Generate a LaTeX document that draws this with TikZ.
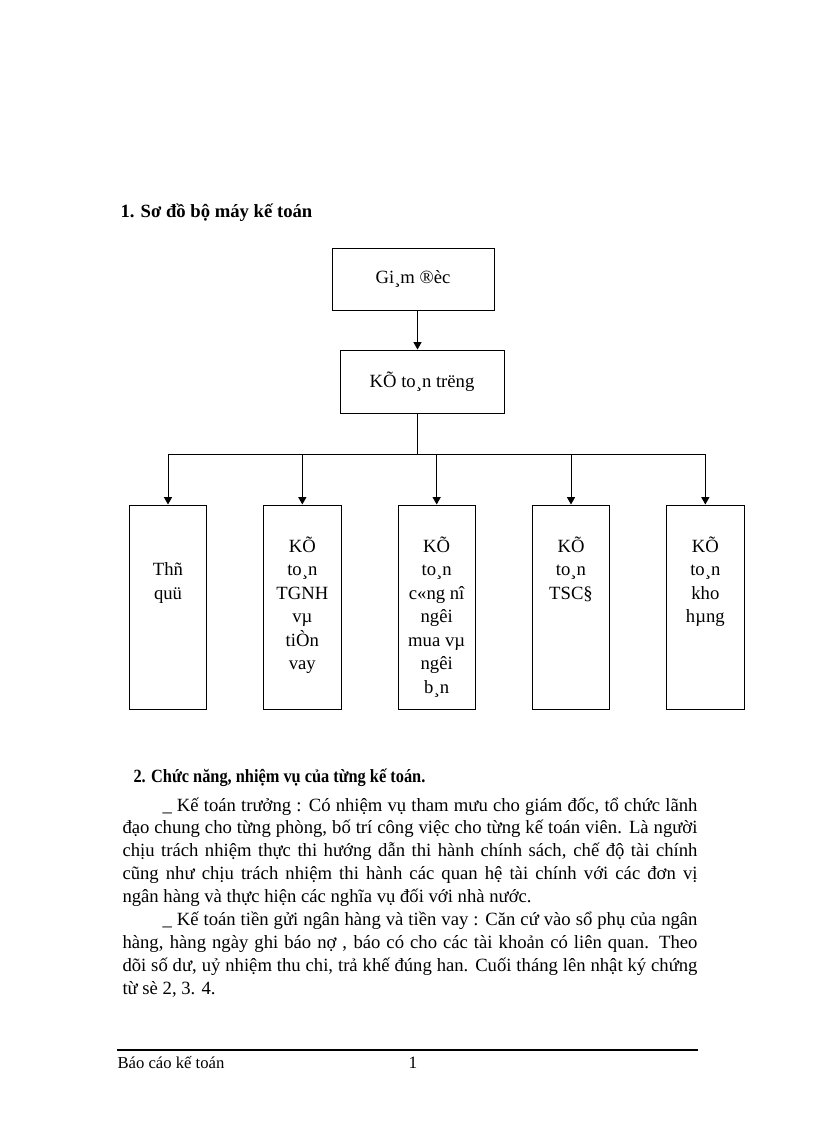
\documentclass[tikz,border=0pt]{standalone}
\usepackage{fontspec}
\setmainfont{Liberation Serif}
\usetikzlibrary{positioning,arrows.meta,calc}

\begin{document}
\begin{tikzpicture}[x=0.75pt, y=-0.75pt, line width=0.75pt,
    every node/.style={font=\fontsize{14}{17.6}\selectfont, inner sep=0pt},
    topbox/.style={draw, align=center},
    unitbox/.style={draw, minimum width=58pt, minimum height=153pt},
    unittext/.style={align=center, anchor=base},
    heading/.style={anchor=base west, font=\fontsize{14}{17.2}\selectfont\bfseries},
    arr/.style={-{Triangle[length=5.5pt, width=6pt]}}]
  \useasboundingbox (0,0) rectangle (816,1123);

  % heading 1
  \node[heading] (h1) at (120,218) {1. Sơ đồ bộ máy kế toán};

  % chart
  \node[topbox, minimum width=121.5pt, minimum height=46.5pt] (gd) at (413,279) {Gi¸m ®èc};
  \node[topbox, minimum width=123pt, minimum height=47.25pt, below=29.25pt of gd,
        xshift=6.75pt] (ktt) {KÕ to¸n trëng};

  \node[unitbox] (b1) at (168,607) {};
  \node[unitbox, right=42pt of b1] (b2) {};
  \node[unitbox, right=42pt of b2] (b3) {};
  \node[unitbox, right=42pt of b3] (b4) {};
  \node[unitbox, right=42pt of b4] (b5) {};

  % base = last line, first line sits 36pt below the box top
  \node[unittext] (t1) at ([yshift=-71.2pt]b1.north) {Thñ\\quü};
  \node[unittext] (t2) at ([yshift=-124pt]b2.north) {KÕ\\to¸n\\TGNH\\vµ\\tiÒn\\vay};
  \node[unittext] (t3) at ([yshift=-141.6pt]b3.north) {KÕ\\to¸n\\c«ng nî\\ngêi\\mua vµ\\ngêi\\b¸n};
  \node[unittext] (t4) at ([yshift=-71.2pt]b4.north) {KÕ\\to¸n\\TSC§};
  \node[unittext] (t5) at ([yshift=-88.8pt]b5.north) {KÕ\\to¸n\\kho\\hµng};

  \coordinate (trunk) at (417.5,454);
  \draw[arr] (trunk |- gd.south) -- (trunk |- ktt.north);
  \draw (trunk |- ktt.south) -- (trunk);
  \draw (b1.north |- trunk) -- (b5.north |- trunk);
  \foreach \i in {1,...,5}
    \draw[arr] (b\i.north |- trunk) -- (b\i.north);

  % heading 2 and text
  \node[heading, font=\fontsize{14}{17.2}\selectfont\bfseries\addfontfeatures{FakeStretch=0.875}]
    (h2) at (133,782) {2. Chức năng, nhiệm vụ của từng kế toán.};
  \node[anchor=base west, text width=431.25pt, align=justify,
        font=\fontsize{14}{17.2}\selectfont] (body) at (122,811)
    {\tolerance=10000\hbadness=10000\hyphenpenalty=10000
     \hspace*{30pt}\_ Kế toán trưởng : Có nhiệm vụ tham mưu cho giám đốc, tổ chức lãnh\linebreak
     đạo chung cho từng phòng, bố trí công việc cho từng kế toán viên. Là người\linebreak
     chịu trách nhiệm thực thi hướng dẫn thi hành chính sách, chế độ tài chính\linebreak
     cũng như chịu trách nhiệm thi hành các quan hệ tài chính với các đơn vị\linebreak
     ngân hàng và thực hiện các nghĩa vụ đối với nhà nước.\\
     \hspace*{30pt}\_ Kế toán tiền gửi ngân hàng và tiền vay : Căn cứ vào sổ phụ của ngân\linebreak
     hàng, hàng ngày ghi báo nợ , báo có cho các tài khoản có liên quan. Theo\linebreak
     dõi số dư, uỷ nhiệm thu chi, trả khế đúng han. Cuối tháng lên nhật ký chứng\linebreak
     từ sè 2, 3. 4.};

  % footer
  \draw[line width=1pt] (117,1050) -- (698,1050);
  \node[anchor=base west, font=\fontsize{12.5}{14}\selectfont] (foot) at (117,1068) {Báo cáo kế toán};
  \node[anchor=base west, font=\fontsize{13}{15}\selectfont] (page) at (408,1068) {1};
\end{tikzpicture}
\end{document}
